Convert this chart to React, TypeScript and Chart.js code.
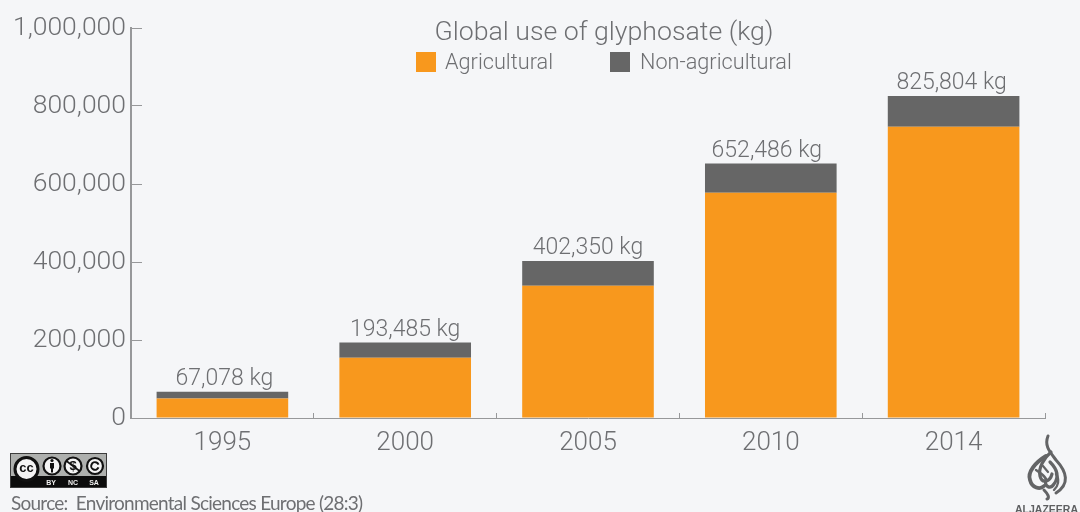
import { useEffect, useRef } from "react";
import { Chart, registerables } from "chart.js";

Chart.register(...registerables);

const years = ["1995", "2000", "2005", "2010", "2014"];
const totals = [67078, 193485, 402350, 652486, 825804];
const agricultural = [50000, 154600, 339000, 577700, 747000];
const nonAgricultural = [17078, 38885, 63350, 74786, 78804];
const chartTitle = "Global use of glyphosate (kg)";
const sourceText = "Source:  Environmental Sciences Europe (28:3)";

const ORANGE = "#f8981d";
const DARK = "#666666";
const TEXT = "#6e6f72";
const AXIS = "#97989a";
const BG = "#f5f6f8";
const SANS = 'Roboto, "Liberation Sans", Arial, sans-serif';

// Small horizontal optical corrections for the total labels.
const labelNudge = [2, 0, 0, -4, -2];

// Stack totals above the bars.
const totalLabels = {
  id: "totalLabels",
  afterDatasetsDraw(chart: any) {
    const { ctx, scales } = chart;
    ctx.save();
    ctx.font = `300 23px ${SANS}`;
    ctx.fillStyle = TEXT;
    ctx.textAlign = "center";
    ctx.textBaseline = "alphabetic";
    totals.forEach((t, i) => {
      const x = scales.x.getPixelForValue(i) + labelNudge[i];
      const y = scales.y.getPixelForValue(t);
      ctx.fillText(`${t.toLocaleString("en-US")} kg`, x, y - 7);
    });
    ctx.restore();
  },
};

// Centred heading with a swatch legend underneath it.
const headingAndLegend = {
  id: "headingAndLegend",
  afterDraw(chart: any) {
    const { ctx } = chart;
    ctx.save();
    ctx.textBaseline = "alphabetic";
    ctx.fillStyle = TEXT;
    ctx.font = `300 26.7px ${SANS}`;
    ctx.textAlign = "center";
    ctx.fillText(chartTitle, 604, 40);
    ctx.textAlign = "left";
    ctx.font = `300 21.7px ${SANS}`;
    const slots = [
      { swatch: 416, text: 445 },
      { swatch: 610, text: 640 },
    ];
    chart.data.datasets.forEach((ds: any, i: number) => {
      ctx.fillStyle = ds.backgroundColor;
      ctx.fillRect(slots[i].swatch, 52, 20, 20);
      ctx.fillStyle = TEXT;
      ctx.fillText(ds.label, slots[i].text, 69);
    });
    ctx.restore();
  },
};

function drawLicenceBadge(ctx: CanvasRenderingContext2D) {
  const left = 10;
  const top = 453;
  ctx.save();
  ctx.fillStyle = "#aeb0ae";
  ctx.strokeStyle = "#3c3c3c";
  ctx.lineWidth = 1;
  ctx.fillRect(left, top, 97, 35);
  ctx.strokeRect(left + 0.5, top + 0.5, 96, 34);
  ctx.fillStyle = "#0c0c0c";
  ctx.fillRect(left + 1, top + 23, 95, 11);

  const ring = (cx: number, cy: number, r: number, w: number) => {
    ctx.beginPath();
    ctx.arc(cx, cy, r, 0, Math.PI * 2);
    ctx.fillStyle = "#f4f4f4";
    ctx.fill();
    ctx.lineWidth = w;
    ctx.strokeStyle = "#111";
    ctx.stroke();
  };
  ring(26.5, 469, 11.5, 3);
  ring(52, 466, 8.5, 2.2);
  ring(73, 466, 8.5, 2.2);
  ring(95, 466, 8, 2.2);

  ctx.fillStyle = "#111";
  ctx.textAlign = "center";
  ctx.textBaseline = "middle";
  ctx.font = `bold 13px "Liberation Sans", sans-serif`;
  ctx.fillText("cc", 26.5, 468);
  ctx.fillText("$", 73, 466);
  // person glyph
  ctx.beginPath();
  ctx.arc(52, 460.5, 1.6, 0, Math.PI * 2);
  ctx.fill();
  ctx.fillRect(50, 463, 4, 5.5);
  ctx.fillRect(51, 468, 2, 4.5);
  // share-alike arc
  ctx.beginPath();
  ctx.arc(95, 466, 3.8, 0.4, Math.PI * 2 - 0.4);
  ctx.lineWidth = 2;
  ctx.strokeStyle = "#111";
  ctx.stroke();
  // no-commercial slash
  ctx.beginPath();
  ctx.moveTo(66.5, 461);
  ctx.lineTo(79.5, 471);
  ctx.lineWidth = 1.6;
  ctx.stroke();

  ctx.fillStyle = "#f0f0f0";
  ctx.font = `bold 7px "Liberation Sans", sans-serif`;
  ctx.fillText("BY", 51, 483);
  ctx.fillText("NC", 73, 483);
  ctx.fillText("SA", 94, 483);
  ctx.restore();
}

function drawBroadcasterMark(ctx: CanvasRenderingContext2D) {
  ctx.save();
  ctx.strokeStyle = "#636466";
  ctx.lineCap = "round";
  ctx.lineJoin = "round";
  const strokes: [string, number][] = [
    ["M1048 436 C1044 446 1050 452 1056 460 C1067 472 1070 484 1056 493", 3],
    ["M1046 456 C1036 462 1027 472 1030 480 C1032 488 1040 490 1044 486", 3.8],
    ["M1051 452 C1044 458 1038 468 1040 476 C1042 484 1050 482 1052 474", 3.2],
    ["M1050 462 C1056 468 1060 476 1054 484 C1050 490 1044 486 1046 480", 3.2],
    ["M1036 470 C1042 474 1048 478 1046 482", 2.4],
    ["M1044 490 C1048 494 1050 498 1047 499", 3],
    ["M1043 466 L1048 472", 2.2],
    ["M1056 474 C1060 480 1058 486 1054 490", 2.4],
  ];
  strokes.forEach(([d, w]) => {
    ctx.lineWidth = w;
    ctx.stroke(new Path2D(d));
  });
  ctx.fillStyle = "#5e5f61";
  ctx.font = `bold 10.5px "Liberation Sans", sans-serif`;
  ctx.textAlign = "left";
  ctx.textBaseline = "alphabetic";
  ctx.fillText("ALJAZEERA", 1015, 513);
  ctx.restore();
}

// Licence badge, source line and broadcaster mark along the bottom edge.
const footer = {
  id: "footer",
  afterDraw(chart: any) {
    const { ctx } = chart;
    drawLicenceBadge(ctx);
    ctx.save();
    ctx.fillStyle = TEXT;
    ctx.font = `19px Lato, sans-serif`;
    (ctx as any).letterSpacing = "-0.75px";
    ctx.textAlign = "left";
    ctx.textBaseline = "alphabetic";
    ctx.fillText(sourceText, 11, 510);
    ctx.restore();
    drawBroadcasterMark(ctx);
  },
};

export default function App() {
  const canvasRef = useRef<HTMLCanvasElement>(null);

  useEffect(() => {
    document.body.style.margin = "0";
    document.body.style.background = BG;
    const chart = new Chart(canvasRef.current!, {
      type: "bar",
      data: {
        labels: years,
        datasets: [
          { label: "Agricultural", data: agricultural, backgroundColor: ORANGE },
          { label: "Non-agricultural", data: nonAgricultural, backgroundColor: DARK },
        ],
      },
      options: {
        animation: false,
        responsive: false,
        layout: { padding: { top: 28, right: 35, left: 0, bottom: 0 } },
        plugins: { legend: { display: false }, title: { display: false }, tooltip: { enabled: false } },
        datasets: { bar: { categoryPercentage: 1, barPercentage: 0.72 } },
        scales: {
          x: {
            stacked: true,
            border: { color: AXIS, width: 1 },
            grid: { drawOnChartArea: false, drawTicks: true, tickLength: -5, color: AXIS },
            ticks: { color: TEXT, padding: 15, font: { family: SANS, size: 26, weight: "300" }, maxRotation: 0 },
            afterFit: (s: any) => { s.height = 94; },
          },
          y: {
            stacked: true,
            min: 0,
            max: 1000000,
            border: { color: AXIS, width: 2 },
            grid: { drawOnChartArea: false, drawTicks: true, tickLength: -11, color: AXIS },
            ticks: {
              stepSize: 200000,
              color: TEXT,
              padding: 16,
              font: { family: SANS, size: 26.5, weight: "300" },
              callback: (v: any) => Number(v).toLocaleString("en-US"),
            },
            afterFit: (s: any) => {
              s.width = 131;
              s.paddingTop = 0;
              s.paddingBottom = 0;
            },
          },
        },
      },
      plugins: [totalLabels, headingAndLegend, footer],
    } as any);
    return () => chart.destroy();
  }, []);

  return (
    <div style={{ position: "absolute", left: 0, top: 0, width: 1080, height: 512, background: BG }}>
      <canvas ref={canvasRef} width={1080} height={512} style={{ display: "block" }} />
    </div>
  );
}
